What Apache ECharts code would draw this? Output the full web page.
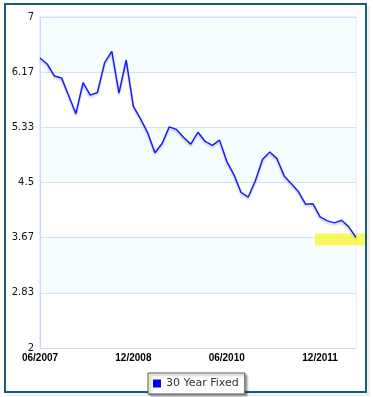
<!DOCTYPE html>
<html>
<head>
<meta charset="utf-8">
<script src="https://cdn.jsdelivr.net/npm/echarts@6/dist/echarts.min.js"></script>
<style>
  html, body { margin: 0; padding: 0; background: #ffffff; }
  #frame { position: absolute; left: 4px; top: 3px; width: 359px; height: 386px;
           border: 2px solid #1b5d79; box-shadow: 3px 3px 0 #e8f3fa; }
  #chart { position: absolute; left: 0; top: 0; width: 373px; height: 397px; }
</style>
</head>
<body>
<div id="frame"></div>
<div id="chart"></div>
<script>
// Series values (30 year fixed rate, %)
const seriesName = '30 Year Fixed';
const rates = [6.38, 6.29, 6.11, 6.08, 5.81, 5.54, 6.01, 5.82, 5.86, 6.31,
               6.48, 5.85, 6.35, 5.65, 5.46, 5.25, 4.95, 5.09, 5.34, 5.30,
               5.18, 5.08, 5.26, 5.12, 5.06, 5.14, 4.82, 4.62, 4.35, 4.28,
               4.53, 4.85, 4.96, 4.86, 4.60, 4.48, 4.36, 4.17, 4.18, 3.98,
               3.92, 3.89, 3.93, 3.83, 3.67];
// X tick labels and the category index where each appears
const xTickLabels = ['06/2007', '12/2008', '06/2010', '12/2011'];
const xTickIndex = [0, 13, 26, 39];
// Y axis
const yMin = 2, yMax = 7, yStep = 5 / 6;

const categories = rates.map((v, i) => String(i));
const lastIndex = rates.length - 1;

const chart = echarts.init(document.getElementById('chart'), null, { renderer: 'canvas' });
chart.setOption({
  animation: false,
  backgroundColor: 'transparent',
  grid: { left: 40, top: 17, right: 17, bottom: 49, show: true,
          borderColor: '#d3e1f6', borderWidth: 1, backgroundColor: 'transparent' },
  xAxis: {
    type: 'category',
    data: categories,
    boundaryGap: false,
    axisLine: { lineStyle: { color: '#c9daf5' } },
    axisTick: { show: false },
    splitLine: { show: false },
    axisLabel: {
      interval: 0,
      margin: 5,
      color: '#000000',
      fontWeight: 'bold',
      fontFamily: '"Liberation Sans Narrow", "Liberation Sans", Arial, sans-serif',
      fontSize: 10,
      formatter: function (v, idx) {
        const k = xTickIndex.indexOf(idx);
        return k >= 0 ? xTickLabels[k] : '';
      }
    }
  },
  yAxis: {
    type: 'value',
    min: yMin, max: yMax, interval: yStep,
    axisLine: { show: true, lineStyle: { color: '#c9daf5' } },
    axisTick: { show: false },
    splitLine: { lineStyle: { color: '#d3e1f6' } },
    splitArea: { show: true, areaStyle: { color: ['#ffffff', '#f5fdfe'] } },
    axisLabel: {
      margin: 6,
      color: '#111111',
      fontFamily: '"DejaVu Sans", Verdana, sans-serif',
      fontSize: 10,
      formatter: function (v) { return String(parseFloat(v.toFixed(2))); }
    }
  },
  legend: {
    data: [seriesName],
    left: 148, top: 373,
    padding: [5, 6, 5, 5],
    itemWidth: 8, itemHeight: 8, itemGap: 4,
    icon: 'rect',
    backgroundColor: '#ffffff',
    borderColor: '#555555', borderWidth: 1,
    shadowColor: 'rgba(0,0,0,0.35)', shadowBlur: 2, shadowOffsetX: 2, shadowOffsetY: 2,
    textStyle: { color: '#333333', fontFamily: '"DejaVu Sans", Verdana, sans-serif', fontSize: 11, padding: [0, 0, 0, 0] }
  },
  series: [
    {
      name: 'highlight',
      type: 'scatter',
      z: 1,
      silent: true,
      data: [[lastIndex, rates[lastIndex]]],
      symbol: 'rect',
      symbolSize: [50, 12],
      symbolOffset: [-16, 2],
      itemStyle: { color: '#f7f73a' }
    },
    {
      name: seriesName,
      type: 'line',
      z: 3,
      data: rates,
      showSymbol: false,
      symbol: 'none',
      color: '#0000ff',
      lineStyle: { color: '#1a1aff', width: 1.5,
                   shadowColor: 'rgba(0,0,0,0.22)', shadowBlur: 2, shadowOffsetY: 2 }
    }
  ]
});
</script>
</body>
</html>
